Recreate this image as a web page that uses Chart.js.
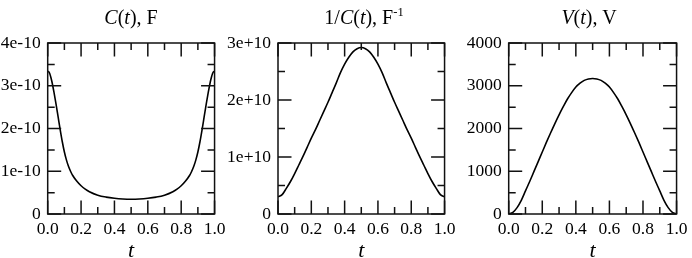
<!DOCTYPE html>
<html><head><meta charset="utf-8">
<script src="https://cdn.jsdelivr.net/npm/chart.js@4"></script>
<style>
html,body{margin:0;padding:0;background:#fff;}
#wrap{position:relative;width:692px;height:258px;overflow:hidden;background:#fff;}
canvas{position:absolute;top:0;}
.ttl{position:absolute;top:7px;font-family:"Liberation Serif","Times New Roman",serif;font-size:20px;line-height:20px;white-space:nowrap;transform:translateX(-50%);color:#000;}
.ttl i{font-style:italic;}
.ttl .sup{font-size:12.5px;position:relative;top:-8px;}
</style>
</head><body>
<div id="wrap">
  <canvas id="c1" width="230" height="258" style="left:0px"></canvas>
  <canvas id="c2" width="242" height="258" style="left:218px"></canvas>
  <canvas id="c3" width="242" height="258" style="left:450px"></canvas>
  <div class="ttl" style="left:131px"><i>C</i>(<i>t</i>), F</div>
  <div class="ttl" style="left:364px">1/<i>C</i>(<i>t</i>), F<span class="sup">-1</span></div>
  <div class="ttl" style="left:589px"><i>V</i>(<i>t</i>), V</div>
</div>
<script>
// ---- data ----
const tC = [0,0.00625,0.0125,0.01875,0.025,0.0375,0.05,0.0625,0.075,0.0875,0.1,0.1125,0.125,0.1375,0.15,0.175,0.2,0.225,0.25,0.3,0.35,0.4,0.45,0.5,
            0.55,0.6,0.65,0.7,0.75,0.775,0.8,0.825,0.85,0.8625,0.875,0.8875,0.9,0.9125,0.925,0.9375,0.95,0.9625,0.975,0.98125,0.9875,0.99375,1];
const capValues = [3.34e-10,3.325e-10,3.28e-10,3.20e-10,3.10e-10,2.85e-10,2.57e-10,2.27e-10,1.97e-10,1.69e-10,1.45e-10,1.26e-10,1.11e-10,0.995e-10,0.90e-10,0.765e-10,0.66e-10,0.58e-10,0.52e-10,0.44e-10,0.395e-10,0.367e-10,0.350e-10,0.344e-10,
                   0.350e-10,0.367e-10,0.395e-10,0.44e-10,0.52e-10,0.58e-10,0.66e-10,0.765e-10,0.90e-10,0.995e-10,1.11e-10,1.26e-10,1.45e-10,1.69e-10,1.97e-10,2.27e-10,2.57e-10,2.85e-10,3.10e-10,3.20e-10,3.28e-10,3.325e-10,3.34e-10];

const tInv = [0,0.025,0.05,0.075,0.1,0.125,0.15,0.175,0.2,0.225,0.25,0.275,0.3,0.325,0.35,0.375,0.4,0.425,0.45,0.475,0.5,
              0.525,0.55,0.575,0.6,0.625,0.65,0.675,0.7,0.725,0.75,0.775,0.8,0.825,0.85,0.875,0.9,0.925,0.95,0.975,1];
const invCapValues = [0.30e10,0.34e10,0.45e10,0.57e10,0.71e10,0.86e10,1.01e10,1.17e10,1.33e10,1.48e10,1.64e10,1.80e10,1.96e10,2.13e10,2.30e10,2.48e10,2.63e10,2.75e10,2.845e10,2.90e10,2.92e10,
                      2.90e10,2.845e10,2.75e10,2.63e10,2.48e10,2.30e10,2.13e10,1.96e10,1.80e10,1.64e10,1.48e10,1.33e10,1.17e10,1.01e10,0.86e10,0.71e10,0.57e10,0.45e10,0.34e10,0.30e10];

const tV = [0,0.025,0.05,0.075,0.1,0.125,0.15,0.175,0.2,0.225,0.25,0.275,0.3,0.325,0.35,0.375,0.4,0.425,0.45,0.475,0.5,
            0.525,0.55,0.575,0.6,0.625,0.65,0.675,0.7,0.725,0.75,0.775,0.8,0.825,0.85,0.875,0.9,0.925,0.95,0.975,1];
const voltValues = [0,40,150,320,540,760,990,1220,1450,1680,1900,2115,2320,2510,2690,2840,2970,3060,3125,3160,3170,
                    3160,3125,3060,2970,2840,2690,2510,2320,2115,1900,1680,1450,1220,990,760,540,320,150,40,0];

const xMajorTicks = [0,0.2,0.4,0.6,0.8,1.0];
const xMinorTicks = [0.1,0.3,0.5,0.7,0.9];
const xTickLabels = ["0.0","0.2","0.4","0.6","0.8","1.0"];

const capMajorTicks = [0,1e-10,2e-10,3e-10,4e-10];
const capMinorTicks = [0.5e-10,1.5e-10,2.5e-10,3.5e-10];
const capTickLabels = ["0","1e-10","2e-10","3e-10","4e-10"];

const invMajorTicks = [0,1e10,2e10,3e10];
const invMinorTicks = [0.5e10,1.5e10,2.5e10];
const invTickLabels = ["0","1e+10","2e+10","3e+10"];

const voltMajorTicks = [0,1000,2000,3000,4000];
const voltMinorTicks = [500,1500,2500,3500];
const voltTickLabels = ["0","1000","2000","3000","4000"];

const xTitle = "t";

// ---- drawing ----
const SERIF = '"Liberation Serif","Times New Roman",serif';
const MAJOR_LEN = 13.5, MINOR_LEN = 7;

function frameTicksPlugin(yMajor, yMinor){
  return {
    id:'frameTicks',
    afterDatasetsDraw(chart){
      const {ctx, chartArea:{left,right,top,bottom}, scales:{x,y}} = chart;
      ctx.save();
      ctx.strokeStyle = '#111';
      ctx.lineWidth = 1.5;
      ctx.beginPath();
      const xt = (v,len)=>{const p=x.getPixelForValue(v);ctx.moveTo(p,bottom);ctx.lineTo(p,bottom-len);ctx.moveTo(p,top);ctx.lineTo(p,top+len);};
      const yt = (v,len)=>{const p=y.getPixelForValue(v);ctx.moveTo(left,p);ctx.lineTo(left+len,p);ctx.moveTo(right,p);ctx.lineTo(right-len,p);};
      xMajorTicks.forEach(v=>xt(v,MAJOR_LEN));
      xMinorTicks.forEach(v=>xt(v,MINOR_LEN));
      yMajor.forEach(v=>yt(v,MAJOR_LEN));
      yMinor.forEach(v=>yt(v,MINOR_LEN));
      ctx.stroke();
      ctx.strokeRect(left,top,right-left,bottom-top);
      ctx.restore();
    }
  };
}

function makePanel(id, tArr, vArr, yMax, yMajor, yMinor, yLabels, axisWidth, padRight){
  const pts = tArr.map((t,i)=>({x:t, y:vArr[i]}));
  new Chart(document.getElementById(id), {
    type:'line',
    data:{datasets:[{data:pts, borderColor:'#000', borderWidth:1.6, pointRadius:0, fill:false,
                     cubicInterpolationMode:'monotone'}]},
    options:{
      responsive:false, animation:false, devicePixelRatio:1,
      layout:{padding:{top:43, right:padRight, left:0, bottom:0}},
      plugins:{legend:{display:false}, tooltip:{enabled:false}, title:{display:false}},
      scales:{
        x:{type:'linear', min:0, max:1,
           grid:{display:false, drawTicks:false}, border:{display:false},
           afterBuildTicks:s=>{s.ticks = xMajorTicks.map(v=>({value:v}));},
           afterFit:s=>{s.height = 44;},
           ticks:{autoSkip:false, maxRotation:0, padding:4.5, color:'#000',
                  font:{family:SERIF, size:17.5}, callback:(v,i)=>xTickLabels[i]},
           title:{display:true, text:xTitle, color:'#000', padding:{top:0,bottom:0},
                  font:{family:SERIF, size:22, style:'italic', lineHeight:0.6}}
        },
        y:{type:'linear', min:0, max:yMax,
           grid:{display:false, drawTicks:false}, border:{display:false},
           afterBuildTicks:s=>{s.ticks = yMajor.map(v=>({value:v}));},
           afterFit:s=>{s.width = axisWidth;},
           ticks:{autoSkip:false, padding:7, color:'#000',
                  font:{family:SERIF, size:17.5}, callback:(v,i)=>yLabels[i]}
        }
      }
    },
    plugins:[frameTicksPlugin(yMajor, yMinor)]
  });
}

makePanel('c1', tC, capValues, 4e-10, capMajorTicks, capMinorTicks, capTickLabels, 47.7, 12.3);
makePanel('c2', tInv, invCapValues, 3e10, invMajorTicks, invMinorTicks, invTickLabels, 60, 11.3);
makePanel('c3', tV, voltValues, 4000, voltMajorTicks, voltMinorTicks, voltTickLabels, 58.7, 12.7);
</script>
</body></html>
